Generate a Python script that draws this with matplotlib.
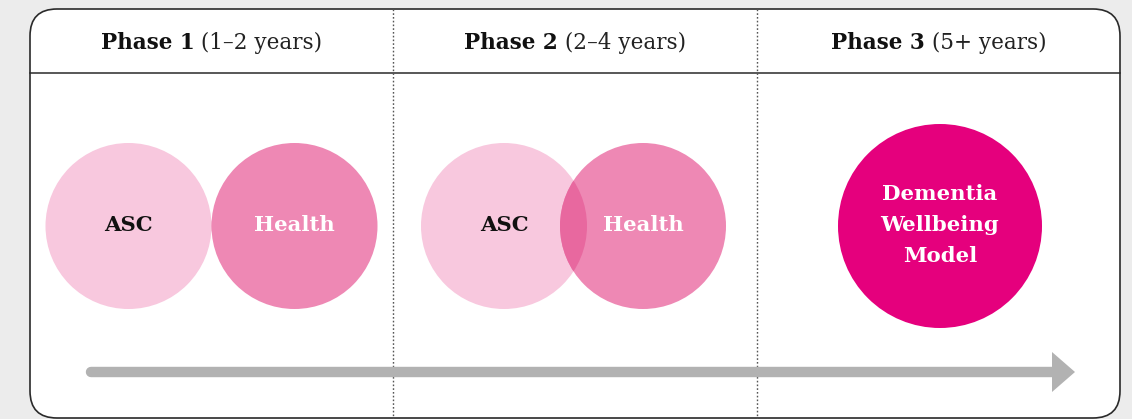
import matplotlib
matplotlib.use("Agg")
import matplotlib.pyplot as plt
from matplotlib.patches import Circle, FancyBboxPatch, Polygon

# ---- data ----
phase_titles = ["Phase 1", "Phase 2", "Phase 3"]
phase_durations = ["(1\u20132 years)", "(2\u20134 years)", "(5+ years)"]
circle_labels = [["ASC", "Health"], ["ASC", "Health"], ["Dementia\nWellbeing\nModel"]]
circle_colors = [["#F8C8DE", "#EE88B4"], ["#F8C8DE", "#EE88B4"], ["#E5007D"]]
label_colors = [["#111111", "white"], ["#111111", "white"], ["white"]]
overlap_color = "#E8689F"

# ---- layout (pixel units) ----
W, H = 1132, 419
box_l, box_r, box_t, box_b = 30, 1120, 9, 418
header_y = 73
dividers = [393, 757]
col_edges = [box_l] + dividers + [box_r]
circle_y = 226
small_r = 83
big_r = 102
circle_centers = [[128.5, 294.5], [504, 643], [940]]
arrow_y, arrow_x0, arrow_x1, arrow_tip = 372, 91, 1053, 1075

fig = plt.figure(figsize=(W / 100, H / 100), dpi=100)
fig.patch.set_facecolor("#ECECEC")
ax = fig.add_axes([0, 0, 1, 1])
ax.set_xlim(0, W)
ax.set_ylim(H, 0)
ax.set_aspect("equal")
ax.axis("off")

box = FancyBboxPatch((box_l, box_t), box_r - box_l, box_b - box_t,
                     boxstyle="round,pad=0,rounding_size=27",
                     facecolor="white", edgecolor="#2a2a2a", linewidth=1.2, zorder=1)
ax.add_patch(box)
ax.plot([box_l, box_r], [header_y, header_y], color="#2a2a2a", lw=1.1, zorder=2)
for x in dividers:
    ax.plot([x, x], [box_t, H + 5], color="#555555", lw=1.0,
            linestyle=(0, (1.2, 1.5)), zorder=2)

# headers
fig.canvas.draw()
renderer = fig.canvas.get_renderer()
for i, (t, d) in enumerate(zip(phase_titles, phase_durations)):
    cx = (col_edges[i] + col_edges[i + 1]) / 2
    t1 = ax.text(0, 43, t, fontsize=15.5, fontweight="bold", family="DejaVu Serif",
                 va="center", ha="left", color="#111111", zorder=3)
    t2 = ax.text(0, 43, " " + d, fontsize=15.5, family="DejaVu Serif",
                 va="center", ha="left", color="#222222", zorder=3)
    w1 = t1.get_window_extent(renderer).width
    w2 = t2.get_window_extent(renderer).width
    x0 = cx - (w1 + w2) / 2
    t1.set_x(x0)
    t2.set_x(x0 + w1)

# circles
for i, centers in enumerate(circle_centers):
    r = small_r if len(centers) > 1 else big_r
    patches = []
    for j, cx in enumerate(centers):
        c = Circle((cx, circle_y), r, facecolor=circle_colors[i][j], edgecolor="none", zorder=3 + j)
        ax.add_patch(c)
        patches.append(c)
    if len(centers) > 1:
        ov = Circle((centers[0], circle_y), r, facecolor=overlap_color, edgecolor="none", zorder=5)
        ax.add_patch(ov)
        ov.set_clip_path(patches[1])
    for j, cx in enumerate(centers):
        ax.text(cx, circle_y - 1, circle_labels[i][j], fontsize=15.3, fontweight="bold",
                family="DejaVu Serif", color=label_colors[i][j], ha="center", va="center",
                linespacing=1.7, zorder=6)

# arrow
ax.plot([arrow_x0, arrow_x1], [arrow_y, arrow_y], color="#B2B2B2", lw=7.5,
        solid_capstyle="round", zorder=3)
ax.add_patch(Polygon([[arrow_x1 - 1, arrow_y - 20], [arrow_tip, arrow_y], [arrow_x1 - 1, arrow_y + 20]],
                     closed=True, facecolor="#B2B2B2", edgecolor="none", zorder=3))

fig.savefig("out.png", dpi=100, facecolor=fig.get_facecolor())
